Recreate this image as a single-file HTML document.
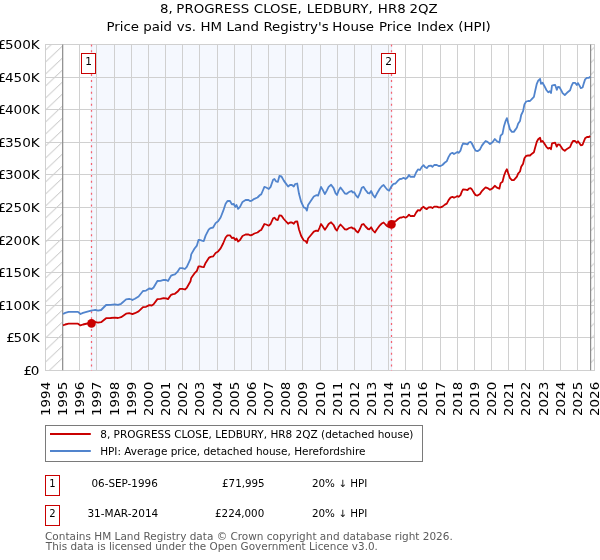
<!DOCTYPE html>
<html><head><meta charset="utf-8"><title>8, PROGRESS CLOSE, LEDBURY, HR8 2QZ</title>
<style>html,body{margin:0;padding:0;background:#fff;}svg{display:block;font-family:"DejaVu Sans","Liberation Sans",sans-serif;}</style></head><body>
<svg width="600" height="560" viewBox="0 0 600 560">
<rect width="600" height="560" fill="#fff"/>
<defs>
<pattern id="hl" patternUnits="userSpaceOnUse" width="12.70" height="12.00" x="45.50" y="38.10"><path d="M-1.27,13.20 L13.97,-1.20" stroke="#adadad" stroke-width="0.8" fill="none"/></pattern>
<pattern id="hr" patternUnits="userSpaceOnUse" width="12.70" height="12.00" x="590.60" y="326.80"><path d="M-1.27,13.20 L13.97,-1.20" stroke="#adadad" stroke-width="0.8" fill="none"/></pattern>
<clipPath id="cp"><rect x="45.52" y="44.60" width="549.02" height="325.70"/></clipPath>
</defs>
<rect x="90.80" y="44.00" width="300.00" height="327.00" fill="#f5f8fe"/>
<rect x="45.52" y="44.60" width="17.16" height="325.70" fill="url(#hl)"/>
<rect x="590.60" y="44.60" width="3.95" height="325.70" fill="url(#hr)"/>
<path d="M45.5,44.0 V371.0 M62.5,44.0 V371.0 M79.5,44.0 V371.0 M96.5,44.0 V371.0 M114.5,44.0 V371.0 M131.5,44.0 V371.0 M148.5,44.0 V371.0 M165.5,44.0 V371.0 M182.5,44.0 V371.0 M199.5,44.0 V371.0 M217.5,44.0 V371.0 M234.5,44.0 V371.0 M251.5,44.0 V371.0 M268.5,44.0 V371.0 M285.5,44.0 V371.0 M302.5,44.0 V371.0 M320.5,44.0 V371.0 M337.5,44.0 V371.0 M354.5,44.0 V371.0 M371.5,44.0 V371.0 M388.5,44.0 V371.0 M405.5,44.0 V371.0 M422.5,44.0 V371.0 M440.5,44.0 V371.0 M457.5,44.0 V371.0 M474.5,44.0 V371.0 M491.5,44.0 V371.0 M508.5,44.0 V371.0 M525.5,44.0 V371.0 M543.5,44.0 V371.0 M560.5,44.0 V371.0 M577.5,44.0 V371.0 M594.5,44.0 V371.0 M45.0,370.5 H595.0 M45.0,337.5 H595.0 M45.0,305.5 H595.0 M45.0,272.5 H595.0 M45.0,240.5 H595.0 M45.0,207.5 H595.0 M45.0,174.5 H595.0 M45.0,142.5 H595.0 M45.0,109.5 H595.0 M45.0,77.5 H595.0 M45.0,44.5 H595.0" stroke="#d0d0d0" stroke-width="1" fill="none"/>
<path d="M62.68,44.60 V370.30 M590.60,44.60 V370.30" stroke="#8e8e8e" stroke-width="1.2" fill="none"/>
<path d="M91.50,44.40 V371.00" stroke="#e8effb" stroke-width="1.25" fill="none"/>
<path d="M91.50,44.40 V371.00" stroke="#f4636f" stroke-width="1.25" stroke-dasharray="2,3.93" fill="none"/>
<path d="M391.50,44.40 V371.00" stroke="#e8effb" stroke-width="1.25" fill="none"/>
<path d="M391.50,44.40 V371.00" stroke="#f4636f" stroke-width="1.25" stroke-dasharray="2,3.93" fill="none"/>
<path d="M63.0,314.0 L65.2,312.9 L68.6,311.9 L73.0,311.9 L78.0,311.9 L80.5,314.0 L83.0,312.9 L87.4,311.6 L91.1,310.6 L93.6,310.2 L95.5,309.8 L98.0,310.6 L101.1,310.0 L106.1,305.0 L110.5,304.8 L114.9,304.4 L118.0,304.8 L121.1,303.8 L126.1,299.4 L129.2,298.8 L131.8,299.5 L132.4,300.0 L134.9,298.8 L138.6,296.5 L143.0,291.0 L146.1,290.6 L149.2,288.5 L151.8,289.0 L153.6,287.5 L157.4,281.0 L160.5,280.8 L163.6,279.8 L166.1,280.0 L168.0,281.0 L171.1,275.6 L173.0,274.8 L174.9,274.4 L177.4,271.9 L179.9,268.1 L182.4,268.1 L184.9,269.0 L186.8,266.9 L190.5,258.8 L191.2,254.4 L194.4,248.8 L196.9,245.6 L198.5,240.0 L200.0,240.0 L201.9,240.6 L203.8,241.0 L205.6,235.6 L208.8,229.4 L210.6,228.1 L213.1,227.5 L215.6,223.1 L218.1,221.2 L220.6,217.5 L223.1,211.2 L225.6,203.8 L227.5,201.0 L230.0,201.0 L231.9,204.4 L233.8,204.0 L235.2,206.9 L236.5,205.0 L238.1,208.8 L240.0,206.9 L242.5,201.9 L245.6,200.0 L248.1,199.8 L250.0,201.0 L251.9,200.6 L254.4,198.8 L257.5,197.5 L260.0,195.0 L261.2,194.4 L263.1,190.0 L264.4,186.9 L266.2,187.5 L268.8,189.0 L270.6,186.9 L273.1,179.8 L274.4,179.0 L276.2,181.5 L277.8,181.9 L279.4,176.0 L281.5,176.5 L283.8,180.6 L285.6,183.1 L288.1,186.5 L290.0,185.0 L291.9,185.0 L293.8,186.5 L295.2,184.0 L297.2,183.5 L299.0,193.8 L301.2,201.9 L303.8,207.5 L305.6,208.1 L306.9,210.6 L308.1,205.0 L310.6,201.2 L313.8,196.5 L316.2,195.2 L318.1,195.6 L319.4,191.9 L321.0,186.9 L322.5,189.4 L324.4,193.1 L324.9,194.0 L326.8,190.6 L328.6,186.9 L331.1,184.8 L333.6,188.1 L335.5,193.1 L337.0,195.0 L338.6,190.6 L340.5,187.5 L342.4,190.0 L344.9,193.5 L346.8,193.8 L349.2,191.9 L351.5,191.0 L353.0,192.5 L354.2,192.2 L356.1,195.6 L358.0,197.5 L359.9,193.1 L361.8,187.8 L363.6,186.9 L365.5,190.0 L368.0,193.1 L369.5,193.5 L371.1,191.0 L373.0,195.0 L374.9,197.5 L376.8,193.8 L379.9,188.5 L381.8,186.2 L383.6,185.0 L385.5,187.5 L387.4,189.8 L389.2,190.6 L391.1,186.9 L393.0,184.4 L393.6,183.8 L395.5,183.5 L398.0,180.6 L399.9,179.0 L401.8,178.8 L403.6,177.8 L405.5,179.0 L407.4,177.5 L409.0,175.0 L410.5,176.9 L412.4,176.6 L414.2,176.9 L416.1,172.5 L418.0,169.4 L419.9,170.0 L421.8,166.9 L423.6,165.2 L424.9,166.9 L426.8,168.1 L428.6,166.0 L431.1,165.6 L432.4,166.9 L434.2,165.0 L436.8,165.0 L438.6,166.0 L440.5,166.0 L442.4,165.0 L444.9,162.5 L446.8,161.2 L448.6,156.9 L450.5,153.8 L452.4,152.8 L454.0,154.0 L456.1,152.8 L457.4,151.9 L458.6,152.8 L460.5,150.6 L461.8,146.2 L463.0,143.5 L465.6,143.8 L467.5,144.4 L468.8,142.5 L470.6,141.9 L471.9,143.5 L473.8,147.5 L475.6,150.6 L477.5,151.2 L480.0,149.4 L481.9,145.6 L483.8,143.1 L485.6,141.0 L487.5,141.9 L490.0,144.0 L492.5,142.2 L494.8,139.0 L496.9,141.2 L499.4,142.5 L500.6,135.6 L502.5,133.8 L504.0,126.2 L505.6,121.0 L506.9,118.1 L508.1,122.8 L510.0,129.4 L511.9,131.9 L513.8,131.9 L515.6,129.4 L516.9,127.5 L518.1,123.8 L520.0,121.0 L521.2,115.0 L523.1,111.2 L524.4,104.4 L526.2,101.5 L528.1,101.0 L530.0,101.0 L532.0,98.8 L533.9,96.9 L535.1,91.2 L536.8,83.8 L538.2,80.6 L540.1,78.8 L541.0,83.8 L542.6,82.8 L544.5,86.2 L546.4,90.0 L548.2,92.2 L549.8,91.2 L551.0,93.1 L552.0,85.6 L553.5,85.2 L555.1,84.8 L556.8,89.8 L558.0,86.9 L559.5,87.2 L561.4,90.6 L562.6,93.1 L564.8,95.0 L567.0,92.8 L570.1,90.2 L571.4,86.2 L573.0,82.8 L575.1,82.8 L576.8,85.0 L578.0,83.1 L579.5,85.6 L580.8,88.1 L582.6,87.5 L583.9,83.1 L585.1,79.4 L587.0,77.8 L588.9,77.8 L590.1,76.5" stroke="#5184cd" stroke-width="1.8" fill="none" stroke-linejoin="round" clip-path="url(#cp)"/>
<path d="M63.0,325.4 L65.2,324.5 L68.6,323.7 L73.0,323.7 L78.0,323.7 L80.5,325.4 L83.0,324.5 L87.4,323.5 L91.1,322.7 L93.6,322.4 L95.5,322.0 L98.0,322.7 L101.1,322.2 L106.1,318.2 L110.5,318.0 L114.9,317.7 L118.0,318.0 L121.1,317.2 L126.1,313.7 L129.2,313.2 L131.8,313.8 L132.4,314.2 L134.9,313.2 L138.6,311.4 L143.0,307.1 L146.1,306.8 L149.2,305.1 L151.8,305.5 L153.6,304.3 L157.4,299.1 L160.5,298.9 L163.6,298.1 L166.1,298.3 L168.0,299.1 L171.1,294.8 L173.0,294.1 L174.9,293.8 L177.4,291.8 L179.9,288.8 L182.4,288.8 L184.9,289.5 L186.8,287.8 L190.5,281.3 L191.2,277.9 L194.4,273.4 L196.9,270.9 L198.5,266.4 L200.0,266.4 L201.9,266.9 L203.8,267.2 L205.6,262.9 L208.8,257.9 L210.6,256.9 L213.1,256.4 L215.6,252.9 L218.1,251.4 L220.6,248.4 L223.1,243.5 L225.6,237.5 L227.5,235.3 L230.0,235.3 L231.9,238.0 L233.8,237.7 L235.2,240.0 L236.5,238.5 L238.1,241.5 L240.0,240.0 L242.5,236.0 L245.6,234.5 L248.1,234.3 L250.0,235.3 L251.9,235.0 L254.4,233.5 L257.5,232.5 L260.0,230.5 L261.2,230.0 L263.1,226.5 L264.4,224.0 L266.2,224.5 L268.8,225.7 L270.6,224.0 L273.1,218.3 L274.4,217.7 L276.2,219.7 L277.8,220.0 L279.4,215.3 L281.5,215.7 L283.8,219.0 L285.6,221.0 L288.1,223.7 L290.0,222.5 L291.9,222.5 L293.8,223.7 L295.2,221.7 L297.2,221.3 L299.0,229.5 L301.2,236.0 L303.8,240.5 L305.6,241.0 L306.9,243.0 L308.1,238.5 L310.6,235.5 L313.8,231.7 L316.2,230.7 L318.1,231.0 L319.4,228.0 L321.0,224.0 L322.5,226.0 L324.4,229.0 L324.9,229.7 L326.8,227.0 L328.6,224.0 L331.1,222.3 L333.6,225.0 L335.5,229.0 L337.0,230.5 L338.6,227.0 L340.5,224.5 L342.4,226.5 L344.9,229.3 L346.8,229.5 L349.2,228.0 L351.5,227.3 L353.0,228.5 L354.2,228.3 L356.1,231.0 L358.0,232.5 L359.9,229.0 L361.8,224.7 L363.6,224.0 L365.5,226.5 L368.0,229.0 L369.5,229.3 L371.1,227.3 L373.0,230.5 L374.9,232.5 L376.8,229.5 L379.9,225.3 L381.8,223.5 L383.6,222.5 L385.5,224.5 L387.4,226.3 L389.2,227.0 L391.1,224.0 L393.0,222.0 L393.6,221.5 L395.5,221.3 L398.0,219.0 L399.9,217.7 L401.8,217.5 L403.6,216.7 L405.5,217.7 L407.4,216.5 L409.0,214.6 L410.5,216.1 L412.4,215.8 L414.2,216.1 L416.1,212.6 L418.0,210.1 L419.9,210.6 L421.8,208.1 L423.6,206.8 L424.9,208.1 L426.8,209.1 L428.6,207.4 L431.1,207.1 L432.4,208.1 L434.2,206.6 L436.8,206.6 L438.6,207.4 L440.5,207.4 L442.4,206.6 L444.9,204.6 L446.8,203.6 L448.6,200.1 L450.5,197.6 L452.4,196.8 L454.0,197.8 L456.1,196.8 L457.4,196.1 L458.6,196.8 L460.5,195.1 L461.8,191.6 L463.0,189.4 L465.6,189.6 L467.5,190.1 L468.8,188.6 L470.6,188.1 L471.9,189.4 L473.8,192.6 L475.6,195.1 L477.5,195.6 L480.0,194.1 L481.9,191.1 L483.8,189.1 L485.6,187.4 L487.5,188.1 L490.0,189.8 L492.5,188.4 L494.8,185.8 L496.9,187.6 L499.4,188.6 L500.6,183.1 L502.5,181.7 L504.0,175.7 L505.6,171.5 L506.9,169.2 L508.1,172.9 L510.0,178.2 L511.9,180.2 L513.8,180.2 L515.6,178.2 L516.9,176.7 L518.1,173.7 L520.0,171.5 L521.2,166.7 L523.1,163.7 L524.4,158.2 L526.2,155.9 L528.1,155.5 L530.0,155.5 L532.0,153.7 L533.9,152.2 L535.1,147.8 L536.8,141.8 L538.2,139.3 L540.1,137.8 L541.0,141.8 L542.6,141.0 L544.5,143.8 L546.4,146.8 L548.2,148.6 L549.8,147.8 L551.0,149.2 L552.0,143.3 L553.5,143.0 L555.1,142.6 L556.8,146.6 L558.0,144.3 L559.5,144.6 L561.4,147.3 L562.6,149.2 L564.8,150.8 L567.0,148.9 L570.1,147.0 L571.4,143.8 L573.0,141.0 L575.1,141.0 L576.8,142.8 L578.0,141.3 L579.5,143.3 L580.8,145.3 L582.6,144.8 L583.9,141.3 L585.1,138.3 L587.0,137.0 L588.9,137.0 L590.1,136.0" stroke="#c90000" stroke-width="1.8" fill="none" stroke-linejoin="round" clip-path="url(#cp)"/>
<circle cx="91.50" cy="323.40" r="4.3" fill="#c90000"/>
<circle cx="391.50" cy="224.39" r="4.3" fill="#c90000"/>
<rect x="81.5" y="53.5" width="14" height="20" fill="#fff" stroke="#c90000" stroke-width="1"/>
<text x="88.5" y="64.8" font-size="10.5" text-anchor="middle" fill="#000">1</text>
<rect x="381.5" y="53.5" width="14" height="20" fill="#fff" stroke="#c90000" stroke-width="1"/>
<text x="388.5" y="64.8" font-size="10.5" text-anchor="middle" fill="#000">2</text>
<text y="12.7" font-size="12" fill="#000"><tspan x="159.94" textLength="12.74" lengthAdjust="spacingAndGlyphs">8,</tspan> <tspan x="176.35" textLength="72.82" lengthAdjust="spacingAndGlyphs">PROGRESS</tspan> <tspan x="253.82" textLength="47.94" lengthAdjust="spacingAndGlyphs">CLOSE,</tspan> <tspan x="306.81" textLength="65.89" lengthAdjust="spacingAndGlyphs">LEDBURY,</tspan> <tspan x="377.86" textLength="27.80" lengthAdjust="spacingAndGlyphs">HR8</tspan> <tspan x="409.59" textLength="28.15" lengthAdjust="spacingAndGlyphs">2QZ</tspan></text>
<text y="30.7" font-size="12" fill="#000"><tspan x="106.43" textLength="32.56" lengthAdjust="spacingAndGlyphs">Price</tspan> <tspan x="143.20" textLength="28.83" lengthAdjust="spacingAndGlyphs">paid</tspan> <tspan x="176.81" textLength="19.10" lengthAdjust="spacingAndGlyphs">vs.</tspan> <tspan x="200.49" textLength="21.56" lengthAdjust="spacingAndGlyphs">HM</tspan> <tspan x="226.50" textLength="32.54" lengthAdjust="spacingAndGlyphs">Land</tspan> <tspan x="263.40" textLength="65.26" lengthAdjust="spacingAndGlyphs">Registry&#39;s</tspan> <tspan x="332.27" textLength="41.82" lengthAdjust="spacingAndGlyphs">House</tspan> <tspan x="379.07" textLength="32.56" lengthAdjust="spacingAndGlyphs">Price</tspan> <tspan x="417.15" textLength="36.75" lengthAdjust="spacingAndGlyphs">Index</tspan> <tspan x="458.36" textLength="32.44" lengthAdjust="spacingAndGlyphs">(HPI)</tspan></text>
<text transform="translate(39.50,374.50) scale(1.13,1)" font-size="12" text-anchor="end" dx="0 -1.1" fill="#000">£0</text>
<text transform="translate(39.70,341.50) scale(1.13,1)" font-size="12" text-anchor="end" dx="0 -1.1" fill="#000">£50K</text>
<text transform="translate(39.70,309.50) scale(1.13,1)" font-size="12" text-anchor="end" dx="0 -1.1" fill="#000">£100K</text>
<text transform="translate(39.70,276.50) scale(1.13,1)" font-size="12" text-anchor="end" dx="0 -1.1" fill="#000">£150K</text>
<text transform="translate(39.70,244.50) scale(1.13,1)" font-size="12" text-anchor="end" dx="0 -1.1" fill="#000">£200K</text>
<text transform="translate(39.70,211.50) scale(1.13,1)" font-size="12" text-anchor="end" dx="0 -1.1" fill="#000">£250K</text>
<text transform="translate(39.70,178.50) scale(1.13,1)" font-size="12" text-anchor="end" dx="0 -1.1" fill="#000">£300K</text>
<text transform="translate(39.70,146.50) scale(1.13,1)" font-size="12" text-anchor="end" dx="0 -1.1" fill="#000">£350K</text>
<text transform="translate(39.70,113.50) scale(1.13,1)" font-size="12" text-anchor="end" dx="0 -1.1" fill="#000">£400K</text>
<text transform="translate(39.70,81.50) scale(1.13,1)" font-size="12" text-anchor="end" dx="0 -1.1" fill="#000">£450K</text>
<text transform="translate(39.70,48.50) scale(1.13,1)" font-size="12" text-anchor="end" dx="0 -1.1" fill="#000">£500K</text>
<text transform="translate(50.00,416.00) rotate(-90)" font-size="12" textLength="34.2" lengthAdjust="spacingAndGlyphs" fill="#000">1994</text>
<text transform="translate(67.00,416.00) rotate(-90)" font-size="12" textLength="34.2" lengthAdjust="spacingAndGlyphs" fill="#000">1995</text>
<text transform="translate(84.00,416.00) rotate(-90)" font-size="12" textLength="34.2" lengthAdjust="spacingAndGlyphs" fill="#000">1996</text>
<text transform="translate(101.00,416.00) rotate(-90)" font-size="12" textLength="34.2" lengthAdjust="spacingAndGlyphs" fill="#000">1997</text>
<text transform="translate(119.00,416.00) rotate(-90)" font-size="12" textLength="34.2" lengthAdjust="spacingAndGlyphs" fill="#000">1998</text>
<text transform="translate(136.00,416.00) rotate(-90)" font-size="12" textLength="34.2" lengthAdjust="spacingAndGlyphs" fill="#000">1999</text>
<text transform="translate(153.00,416.00) rotate(-90)" font-size="12" textLength="34.2" lengthAdjust="spacingAndGlyphs" fill="#000">2000</text>
<text transform="translate(170.00,416.00) rotate(-90)" font-size="12" textLength="34.2" lengthAdjust="spacingAndGlyphs" fill="#000">2001</text>
<text transform="translate(187.00,416.00) rotate(-90)" font-size="12" textLength="34.2" lengthAdjust="spacingAndGlyphs" fill="#000">2002</text>
<text transform="translate(204.00,416.00) rotate(-90)" font-size="12" textLength="34.2" lengthAdjust="spacingAndGlyphs" fill="#000">2003</text>
<text transform="translate(222.00,416.00) rotate(-90)" font-size="12" textLength="34.2" lengthAdjust="spacingAndGlyphs" fill="#000">2004</text>
<text transform="translate(239.00,416.00) rotate(-90)" font-size="12" textLength="34.2" lengthAdjust="spacingAndGlyphs" fill="#000">2005</text>
<text transform="translate(256.00,416.00) rotate(-90)" font-size="12" textLength="34.2" lengthAdjust="spacingAndGlyphs" fill="#000">2006</text>
<text transform="translate(273.00,416.00) rotate(-90)" font-size="12" textLength="34.2" lengthAdjust="spacingAndGlyphs" fill="#000">2007</text>
<text transform="translate(290.00,416.00) rotate(-90)" font-size="12" textLength="34.2" lengthAdjust="spacingAndGlyphs" fill="#000">2008</text>
<text transform="translate(307.00,416.00) rotate(-90)" font-size="12" textLength="34.2" lengthAdjust="spacingAndGlyphs" fill="#000">2009</text>
<text transform="translate(325.00,416.00) rotate(-90)" font-size="12" textLength="34.2" lengthAdjust="spacingAndGlyphs" fill="#000">2010</text>
<text transform="translate(342.00,416.00) rotate(-90)" font-size="12" textLength="34.2" lengthAdjust="spacingAndGlyphs" fill="#000">2011</text>
<text transform="translate(359.00,416.00) rotate(-90)" font-size="12" textLength="34.2" lengthAdjust="spacingAndGlyphs" fill="#000">2012</text>
<text transform="translate(376.00,416.00) rotate(-90)" font-size="12" textLength="34.2" lengthAdjust="spacingAndGlyphs" fill="#000">2013</text>
<text transform="translate(393.00,416.00) rotate(-90)" font-size="12" textLength="34.2" lengthAdjust="spacingAndGlyphs" fill="#000">2014</text>
<text transform="translate(410.00,416.00) rotate(-90)" font-size="12" textLength="34.2" lengthAdjust="spacingAndGlyphs" fill="#000">2015</text>
<text transform="translate(427.00,416.00) rotate(-90)" font-size="12" textLength="34.2" lengthAdjust="spacingAndGlyphs" fill="#000">2016</text>
<text transform="translate(445.00,416.00) rotate(-90)" font-size="12" textLength="34.2" lengthAdjust="spacingAndGlyphs" fill="#000">2017</text>
<text transform="translate(462.00,416.00) rotate(-90)" font-size="12" textLength="34.2" lengthAdjust="spacingAndGlyphs" fill="#000">2018</text>
<text transform="translate(479.00,416.00) rotate(-90)" font-size="12" textLength="34.2" lengthAdjust="spacingAndGlyphs" fill="#000">2019</text>
<text transform="translate(496.00,416.00) rotate(-90)" font-size="12" textLength="34.2" lengthAdjust="spacingAndGlyphs" fill="#000">2020</text>
<text transform="translate(513.00,416.00) rotate(-90)" font-size="12" textLength="34.2" lengthAdjust="spacingAndGlyphs" fill="#000">2021</text>
<text transform="translate(530.00,416.00) rotate(-90)" font-size="12" textLength="34.2" lengthAdjust="spacingAndGlyphs" fill="#000">2022</text>
<text transform="translate(548.00,416.00) rotate(-90)" font-size="12" textLength="34.2" lengthAdjust="spacingAndGlyphs" fill="#000">2023</text>
<text transform="translate(565.00,416.00) rotate(-90)" font-size="12" textLength="34.2" lengthAdjust="spacingAndGlyphs" fill="#000">2024</text>
<text transform="translate(582.00,416.00) rotate(-90)" font-size="12" textLength="34.2" lengthAdjust="spacingAndGlyphs" fill="#000">2025</text>
<text transform="translate(599.00,416.00) rotate(-90)" font-size="12" textLength="34.2" lengthAdjust="spacingAndGlyphs" fill="#000">2026</text>
<rect x="45.5" y="425.5" width="377" height="36" fill="#fff" stroke="#7a7a7a" stroke-width="1"/>
<path d="M50,434 H90.8" stroke="#c90000" stroke-width="2" fill="none"/>
<path d="M50,451 H90.8" stroke="#5184cd" stroke-width="2" fill="none"/>
<text x="100.28" textLength="313.20" lengthAdjust="spacingAndGlyphs" y="437.5" font-size="10" fill="#000">8, PROGRESS CLOSE, LEDBURY, HR8 2QZ (detached house)</text>
<text x="100.17" textLength="265.33" lengthAdjust="spacingAndGlyphs" y="454.6" font-size="10" fill="#000">HPI: Average price, detached house, Herefordshire</text>
<rect x="45.5" y="475.5" width="14" height="20" fill="#fff" stroke="#c90000" stroke-width="1"/>
<text x="52.5" y="486.7" font-size="10" text-anchor="middle" fill="#000">1</text>
<text x="91.47" y="486.7" font-size="10" textLength="66.29" lengthAdjust="spacingAndGlyphs" fill="#000">06-SEP-1996</text>
<text x="222.06" y="486.7" font-size="10" textLength="42.62" lengthAdjust="spacingAndGlyphs" fill="#000">£71,995</text>
<text x="311.95" y="486.7" font-size="10" textLength="55.28" lengthAdjust="spacingAndGlyphs" fill="#000">20% ↓ HPI</text>
<rect x="45.5" y="505.5" width="14" height="20" fill="#fff" stroke="#c90000" stroke-width="1"/>
<text x="52.5" y="516.7" font-size="10" text-anchor="middle" fill="#000">2</text>
<text x="87.43" y="516.7" font-size="10" textLength="70.84" lengthAdjust="spacingAndGlyphs" fill="#000">31-MAR-2014</text>
<text x="215.06" y="516.7" font-size="10" textLength="49.18" lengthAdjust="spacingAndGlyphs" fill="#000">£224,000</text>
<text x="311.95" y="516.7" font-size="10" textLength="55.28" lengthAdjust="spacingAndGlyphs" fill="#000">20% ↓ HPI</text>
<text x="45.03" textLength="407.79" lengthAdjust="spacingAndGlyphs" y="539.7" font-size="10" fill="#5a5a5a">Contains HM Land Registry data © Crown copyright and database right 2026.</text>
<text x="45.86" textLength="332.05" lengthAdjust="spacingAndGlyphs" y="549.7" font-size="10" fill="#5a5a5a">This data is licensed under the Open Government Licence v3.0.</text>
</svg></body></html>
